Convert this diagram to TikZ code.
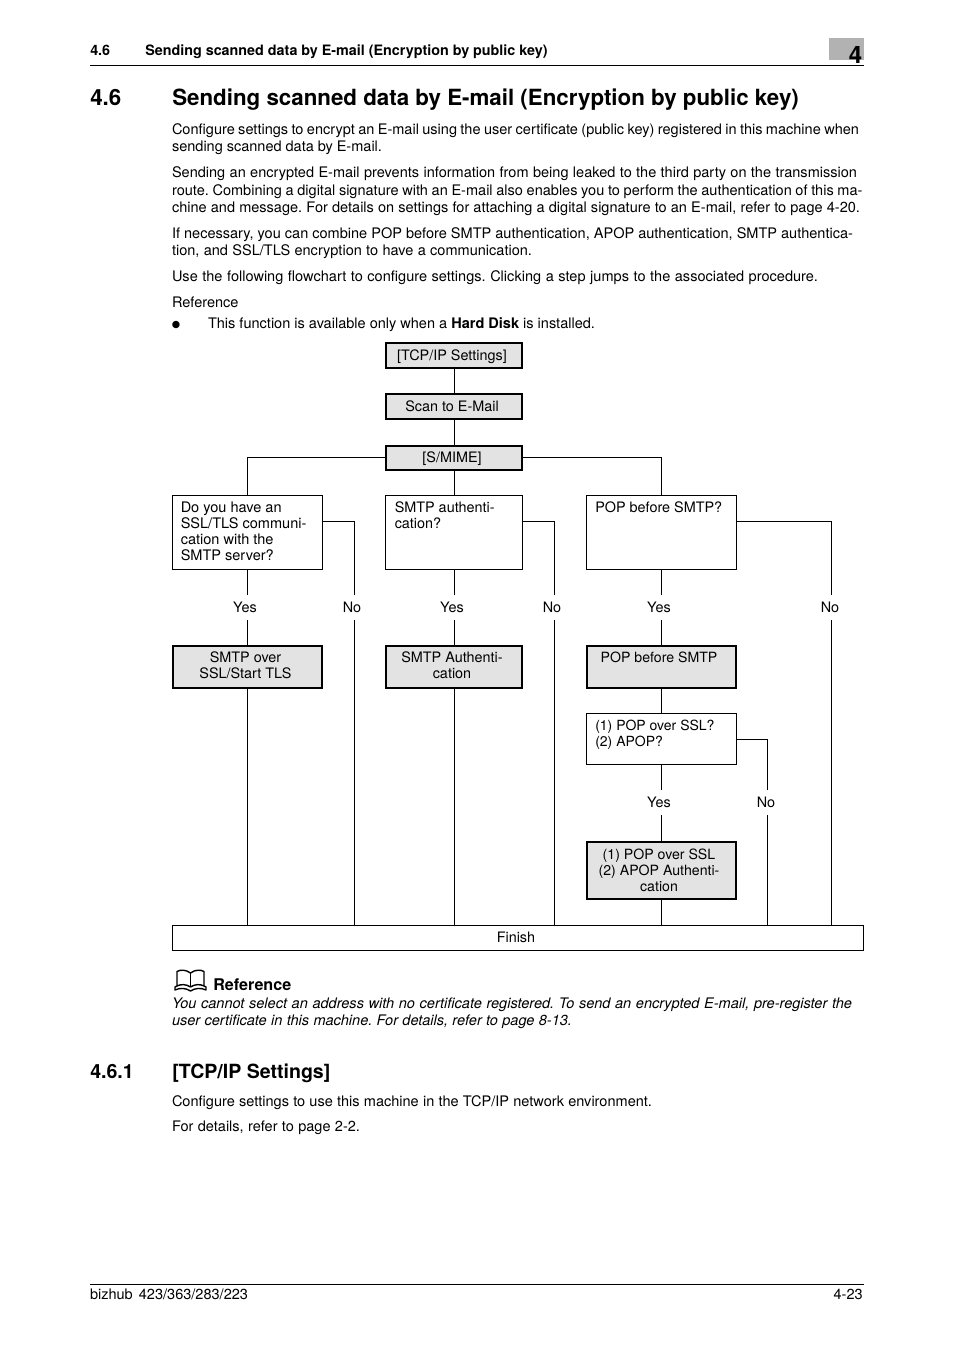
\documentclass[tikz,border=0pt]{standalone}
\usepackage{fontspec}
\setmainfont{TeX Gyre Heros}
\newfontfamily\symfont{DejaVu Sans}
\frenchspacing
\newlength{\pxu}\setlength{\pxu}{0.75pt}
\newcommand{\bodysize}{\fontsize{10.9pt}{12pt}\selectfont}
\newcommand{\boxsize}{\fontsize{10.8pt}{12pt}\selectfont}
% body line set to a given width in image pixels
\newcommand{\tline}[2]{\makebox[#1\pxu][s]{#2}}
% left aligned box content: width, height, left pad, top pad, text
\newcommand{\lbx}[5]{\parbox[c][#2\pxu][t]{#1\pxu}{\vspace*{#4\pxu}\boxsize\raggedright\baselineskip=16\pxu\leftskip=#3\pxu\relax #5\par}}
% centred box content: width, height, right pad, top pad, text
\newcommand{\cbx}[5]{\parbox[c][#2\pxu][t]{#1\pxu}{\vspace*{#4\pxu}\boxsize\centering\baselineskip=16\pxu\rightskip=#3\pxu plus 1fil\relax #5\par}}
\tikzset{
  thinbox/.style={draw=black,line width=1\pxu,inner sep=0pt,outer sep=0pt,fill=white},
  greybox/.style={draw=black,line width=2\pxu,inner sep=0pt,outer sep=0pt,fill=black!11},
  greythin/.style={greybox,line width=1.4\pxu},
  conn/.style={draw=black,line width=1\pxu},
  lab/.style={inner sep=0pt,outer sep=0pt,font=\boxsize,minimum height=25\pxu},
  txt/.style={anchor=base west,inner sep=0pt,outer sep=0pt,font=\bodysize},
  itx/.style={txt,font=\bodysize\itshape},
  rule/.style={draw=black,line width=1\pxu},
}
\begin{document}
\begin{tikzpicture}[x=0.75pt,y=-0.75pt]
\useasboundingbox[fill=white] (0,0) rectangle (954,1350);
% running head
\fill[black!30] (829,38) rectangle (863.5,60);
\node[anchor=base west,inner sep=0pt,font=\fontsize{18pt}{21pt}\selectfont\bfseries] (chap) at (848.5,63.5) {4};
\node[anchor=base west,inner sep=0pt,font=\fontsize{10.75pt}{12pt}\selectfont\bfseries] (hn) at (90,55) {4.6};
\node[anchor=base west,inner sep=0pt,font=\fontsize{10.75pt}{12pt}\selectfont\bfseries] (ht) at (145,55) {Sending scanned data by E-mail (Encryption by public key)};
\draw[rule] (90,65.5) -- (864,65.5);
% headings
\node[anchor=base west,inner sep=0pt,font=\fontsize{16.74pt}{18pt}\selectfont\bfseries] (h1n) at (90,105) {4.6};
\node[anchor=base west,inner sep=0pt,font=\fontsize{16.74pt}{18pt}\selectfont\bfseries] (h1t) at (172,105) {Sending scanned data by E-mail (Encryption by public key)};
% body
\node[txt] (b1) at (172,134) {\tline{687}{Configure settings to encrypt an E-mail using the user certificate (public key) registered in this machine when}};
\node[txt] (b2) at (172,151) {\tline{210}{sending scanned data by E-mail.}};
\node[txt] (b3) at (172,177) {\tline{685}{Sending an encrypted E-mail prevents information from being leaked to the third party on the transmission}};
\node[txt] (b4) at (172,195) {\tline{690.5}{route. Combining a digital signature with an E-mail also enables you to perform the authentication of this ma-}};
\node[txt] (b5) at (172,212) {\tline{688}{chine and message. For details on settings for attaching a digital signature to an E-mail, refer to page 4-20.}};
\node[txt] (b6) at (172,238) {\tline{681}{If necessary, you can combine POP before SMTP authentication, APOP authentication, SMTP authentica-}};
\node[txt] (b7) at (172,255) {\tline{360}{tion, and SSL/TLS encryption to have a communication.}};
\node[txt] (b8) at (172,281) {\tline{646}{Use the following flowchart to configure settings. Clicking a step jumps to the associated procedure.}};
\node[txt] (b9) at (172,307) {Reference};
\node[anchor=base west,inner sep=0pt,font=\symfont\fontsize{7.2pt}{10pt}\selectfont] (b10) at (171.5,327) {●};
\node[txt] (b11) at (208,328) {This function is available only when a \textbf{Hard Disk} is installed.};
% flow boxes
\node[greythin] (tcp) at (454,355.5) {\cbx{136}{25}{4}{6.5}{[TCP/IP Settings]}};
\node[greythin] (scan) at (454,406.5) {\cbx{136}{25}{4}{6.5}{Scan to E-Mail}};
\node[greybox] (smime) at (454,457.5) {\cbx{135.5}{24}{4}{6}{[S/MIME]}};
\node[thinbox] (q1) at (247.5,532.5) {\lbx{149.5}{74}{8}{6.5}{\fontsize{10.9pt}{12pt}\selectfont\baselineskip=16\pxu Do you have an\\SSL/TLS communi-\\cation with the\\SMTP server?}};
\node[thinbox] (q2) at (454,532.5) {\lbx{136.5}{74}{9}{6.5}{SMTP authenti-\\cation?}};
\node[thinbox] (q3) at (661.5,532.5) {\lbx{149.5}{74}{8.5}{6.5}{POP before SMTP?}};
\node[greybox] (r1) at (247.5,667) {\cbx{149}{41.7}{4}{6}{SMTP over\\SSL/Start TLS}};
\node[greybox] (r2) at (454,667) {\cbx{135.5}{41.7}{4}{6}{SMTP Authenti-\\cation}};
\node[greybox] (r3) at (661.5,667) {\cbx{149}{41.7}{5}{6}{\fontsize{10.6pt}{12pt}\selectfont\baselineskip=16\pxu POP before SMTP}};
\node[thinbox] (q4) at (661.5,739) {\lbx{149.5}{51}{8.5}{6.5}{\fontsize{10.5pt}{12pt}\selectfont\baselineskip=16\pxu (1) POP over SSL?\\(2) APOP?}};
\node[greybox] (r4) at (661.5,870.5) {\cbx{149}{57}{5}{7}{\fontsize{10.6pt}{12pt}\selectfont\baselineskip=16\pxu (1) POP over SSL\\(2) APOP Authenti-\\cation}};
\node[thinbox] (fin) at (517.5,938) {\cbx{691}{25}{3}{6.5}{Finish}};
% yes/no labels
\node[lab] (y1) at (245,607.5) {Yes};
\node[lab] (n1) at (352,607.5) {No};
\node[lab] (y2) at (452,607.5) {Yes};
\node[lab] (n2) at (552,607.5) {No};
\node[lab] (y3) at (659,607.5) {Yes};
\node[lab] (n3) at (830,607.5) {No};
\node[lab] (y4) at (659,802.5) {Yes};
\node[lab] (n4) at (766,802.5) {No};
% elbow corners
\coordinate (c1) at (354.3,521.5);
\coordinate (c2) at (554.7,521.5);
\coordinate (c3) at (831.3,521.5);
\coordinate (c4) at (767.5,739.5);
% connectors
\draw[conn] (tcp.south) -- (scan.north);
\draw[conn] (scan.south) -- (smime.north);
\draw[conn] (smime.south) -- (q2.north);
\draw[conn] (smime.west) -| (q1.north);
\draw[conn] (smime.east) -| (q3.north);
\foreach \q/\y/\r in {q1/y1/r1,q2/y2/r2,q3/y3/r3}{
  \draw[conn] (\q.south) -- (\q.south |- \y.north);
  \draw[conn] (\r.north |- \y.south) -- (\r.north);
}
\draw[conn] (r1.south) -- (r1.south |- fin.north);
\draw[conn] (r2.south) -- (r2.south |- fin.north);
\draw[conn] (r3.south) -- (q4.north);
\draw[conn] (q4.south) -- (q4.south |- y4.north);
\draw[conn] (r4.north |- y4.south) -- (r4.north);
\draw[conn] (r4.south) -- (r4.south |- fin.north);
\foreach \q/\c/\n in {q1/c1/n1,q2/c2/n2,q3/c3/n3,q4/c4/n4}{
  \draw[conn] (\q.east |- \c) -- (\c) -- (\c |- \n.north);
  \draw[conn] (\c |- \n.south) -- (\c |- fin.north);
}
% reference note
\begin{scope}[line width=1.4\pxu,line join=round]
  \draw (190.5,973) .. controls (186,969.5) and (180,969.5) .. (177,971.5) -- (177,986) .. controls (181,984) and (186,984) .. (190.5,987);
  \draw (190.5,973) .. controls (195,969.5) and (201,969.5) .. (204,971.5) -- (204,986) .. controls (200,984) and (195,984) .. (190.5,987);
  \draw (190.5,973) -- (190.5,987);
  \draw (177,986) -- (175,987) -- (175,990) .. controls (180,987.5) and (186,988) .. (190.5,991) .. controls (195,988) and (201,987.5) .. (206,990) -- (206,987) -- (204,986);
\end{scope}
\node[anchor=base west,inner sep=0pt,font=\fontsize{12.1pt}{12pt}\selectfont\bfseries] (rf) at (213,990) {Reference};
\node[itx] (i1) at (172,1008) {\tline{680}{You cannot select an address with no certificate registered. To send an encrypted E-mail, pre-register the}};
\node[itx] (i2) at (172,1025) {\tline{400}{user certificate in this machine. For details, refer to page 8-13.}};
% 4.6.1
\node[anchor=base west,inner sep=0pt,font=\fontsize{14.66pt}{16pt}\selectfont\bfseries] (h2n) at (90,1078) {4.6.1};
\node[anchor=base west,inner sep=0pt,font=\fontsize{14.66pt}{16pt}\selectfont\bfseries] (h2t) at (172,1078) {[TCP/IP Settings]};
\node[txt] (c1t) at (172,1106) {\tline{480}{Configure settings to use this machine in the TCP/IP network environment.}};
\node[txt] (c2t) at (172,1131) {\tline{188}{For details, refer to page 2-2.}};
% footer
\draw[rule] (90,1284.5) -- (864,1284.5);
\node[txt] (f1) at (90,1299) {\tline{158}{bizhub 423/363/283/223}};
\node[anchor=base east,inner sep=0pt,font=\bodysize] (f2) at (863,1299) {4-23};
\end{tikzpicture}
\end{document}
